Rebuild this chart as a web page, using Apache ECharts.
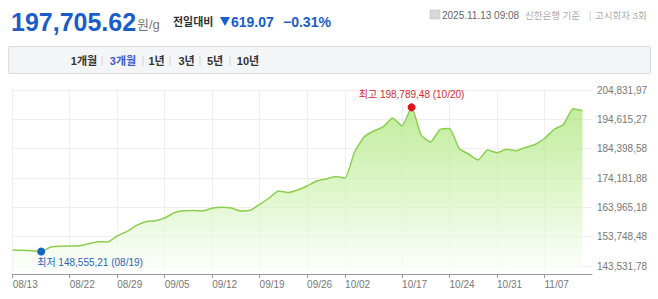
<!DOCTYPE html>
<html>
<head>
<meta charset="utf-8">
<script src="https://cdn.jsdelivr.net/npm/echarts@6/dist/echarts.min.js"></script>
<style>
html,body{margin:0;padding:0;background:#fff;}
#c{width:658px;height:299px;}
</style>
</head>
<body>
<div id="c"></div>
<script>
// ---- data ----
const dates = ['08/13','08/14','08/18','08/19','08/20','08/21','08/22','08/25','08/26','08/27','08/28','08/29',
  '09/01','09/02','09/03','09/04','09/05','09/08','09/09','09/10','09/11','09/12','09/15','09/16','09/17','09/18','09/19',
  '09/22','09/23','09/24','09/25','09/26','09/29','09/30','10/01','10/02','10/10','10/13','10/14','10/15','10/16','10/17',
  '10/20','10/21','10/22','10/23','10/24','10/27','10/28','10/29','10/30','10/31','11/03','11/04','11/05','11/06','11/07',
  '11/10','11/11','11/12','11/13'];
const prices = [149080,149020,148850,148555.21,150150,150390,150500,150600,151300,151990,151900,153980,
  155480,157570,158960,159310,160250,162100,162790,162850,162690,163630,163980,163730,162690,162930,164950,
  167220,169650,169130,170000,171400,173140,173830,174700,174180,183240,188460,190550,191950,195080,192290,
  198789.48,189160,186720,191080,191420,184460,182540,180450,183940,183000,184180,183690,184810,185850,187940,
  191080,192820,198324.69,197705.62];
const xTickLabels = ['08/13','08/22','08/29','09/05','09/12','09/19','09/26','10/02','10/17','10/24','10/31','11/07'];
const yTicks = [143531.78,153748.48,163965.18,174181.88,184398.58,194615.27,204831.97];
const tabs = ['1개월','3개월','1년','3년','5년','10년'];
const headerPrice = '197,705.62';
const headerUnit = '원/g';
const headerLabel = '전일대비';
const headerChange = '619.07';
const headerRate = '−0.31%';
const headerInfoDate = '2025.11.13 09:08';
const headerInfoRest = '신한은행 기준';
const headerInfoRound = '고시회차 3회';

function fmtComma(v){
  const parts = v.toFixed(2).split('.');
  return parts[0].replace(/\B(?=(\d{3})+(?!\d))/g, ',') + ',' + parts[1];
}
const maxIdx = prices.indexOf(Math.max(...prices));
const minIdx = prices.indexOf(Math.min(...prices));
const FONT = '"Liberation Sans", "Noto Sans CJK KR", sans-serif';

const chart = echarts.init(document.getElementById('c'), null, {renderer:'svg'});
const yRange = yTicks[yTicks.length-1] - yTicks[0];
const tabX = [84,123,156.5,186.5,215,248];
const sepX = [102,143,170,200,230];

const graphics = [
  {type:'text', x:11, y:22, style:{text:headerPrice, font:'bold 25px '+FONT, fill:'#1a5cc8', verticalAlign:'middle', align:'left'}},
  {type:'text', x:137, y:24, style:{text:headerUnit, font:'13px '+FONT, fill:'#777', verticalAlign:'middle', align:'left'}},
  {type:'text', x:173, y:22, style:{text:headerLabel, font:'bold 11px '+FONT, fill:'#333', verticalAlign:'middle', align:'left'}},
  {type:'polygon', shape:{points:[[220,17],[230,17],[225,26]]}, style:{fill:'#1a5cc8'}},
  {type:'text', x:231, y:22, style:{text:headerChange, font:'bold 14px '+FONT, fill:'#1a5cc8', verticalAlign:'middle', align:'left'}},
  {type:'text', x:283, y:22, style:{text:headerRate, font:'bold 14px '+FONT, fill:'#1a5cc8', verticalAlign:'middle', align:'left'}},
  {type:'rect', shape:{x:430, y:10, width:10, height:9}, style:{fill:'#d8d8d8', stroke:'#bbb', lineWidth:0.5}},
  {type:'text', x:442, y:15, style:{text:headerInfoDate, font:'10px '+FONT, fill:'#666', verticalAlign:'middle', align:'left'}},
  {type:'text', x:525, y:15, style:{text:headerInfoRest, font:'9.5px '+FONT, fill:'#aaa', verticalAlign:'middle', align:'left'}},
  {type:'text', x:590, y:15, style:{text:'|', font:'10px '+FONT, fill:'#ccc', verticalAlign:'middle', align:'center'}},
  {type:'text', x:595, y:15, style:{text:headerInfoRound, font:'9.5px '+FONT, fill:'#aaa', verticalAlign:'middle', align:'left'}},
  {type:'rect', shape:{x:8.5, y:46.5, width:642, height:27}, style:{fill:'#f4f5f7', stroke:'#dcdde0', lineWidth:1}}
];
tabs.forEach((t,i)=>{
  graphics.push({type:'text', x:tabX[i], y:61, style:{text:t, font:'bold 11px '+FONT, fill: i===1?'#3b5cc4':'#333', verticalAlign:'middle', align:'center'}});
});
sepX.forEach(x=>{
  graphics.push({type:'line', shape:{x1:x, y1:56, x2:x, y2:66}, style:{stroke:'#d4d4d4', lineWidth:1}});
});

const isLabel = (idx, val) => xTickLabels.indexOf(dates[idx]) >= 0;

chart.setOption({
  animation:false,
  graphic: graphics,
  grid:{left:12.7, right:66, top:90, bottom:25},
  xAxis:{
    type:'category', data:dates, boundaryGap:false, max:60.6,
    axisLine:{lineStyle:{color:'#999', width:1}},
    axisTick:{show:true, interval:isLabel, length:4, lineStyle:{color:'#999'}},
    axisLabel:{interval:isLabel, align:'left', margin:5, fontSize:10, color:'#777', fontFamily:FONT},
    splitLine:{show:true, interval:isLabel, lineStyle:{color:'#eeeeee'}}
  },
  yAxis:{
    type:'value', position:'right',
    min: yTicks[0] - yRange*8/176,
    max: yTicks[yTicks.length-1],
    axisLine:{show:false},
    axisTick:{show:false, customValues:yTicks},
    axisLabel:{customValues:yTicks, margin:5, fontSize:10, color:'#777', fontFamily:FONT, formatter:v=>fmtComma(v)},
    splitLine:{show:true, lineStyle:{color:'#eeeeee'}}
  },
  series:[{
    type:'line', data:prices, showSymbol:false, smooth:0.15,
    lineStyle:{color:'#8ccf4f', width:1.5},
    areaStyle:{color:new echarts.graphic.LinearGradient(0,0,0,1,[
      {offset:0, color:'#a6e472'},{offset:0.55, color:'#d5f4bb'},{offset:1, color:'#ffffff'}])},
    markPoint:{
      symbol:'circle', symbolSize:8,
      data:[
        {coord:[maxIdx, prices[maxIdx]], itemStyle:{color:'#e3101e'},
         label:{show:true, position:'top', distance:4, formatter:'최고 '+fmtComma(prices[maxIdx])+' ('+dates[maxIdx]+')', color:'#d42a32', fontSize:10, fontFamily:FONT}},
        {coord:[minIdx, prices[minIdx]], itemStyle:{color:'#1566c4'},
         label:{show:true, position:'bottom', distance:2, align:'left', offset:[-4,0], formatter:'최저 '+fmtComma(prices[minIdx])+' ('+dates[minIdx]+')', color:'#2a62b8', fontSize:10, fontFamily:FONT}}
      ]
    }
  }]
});
</script>
</body>
</html>
